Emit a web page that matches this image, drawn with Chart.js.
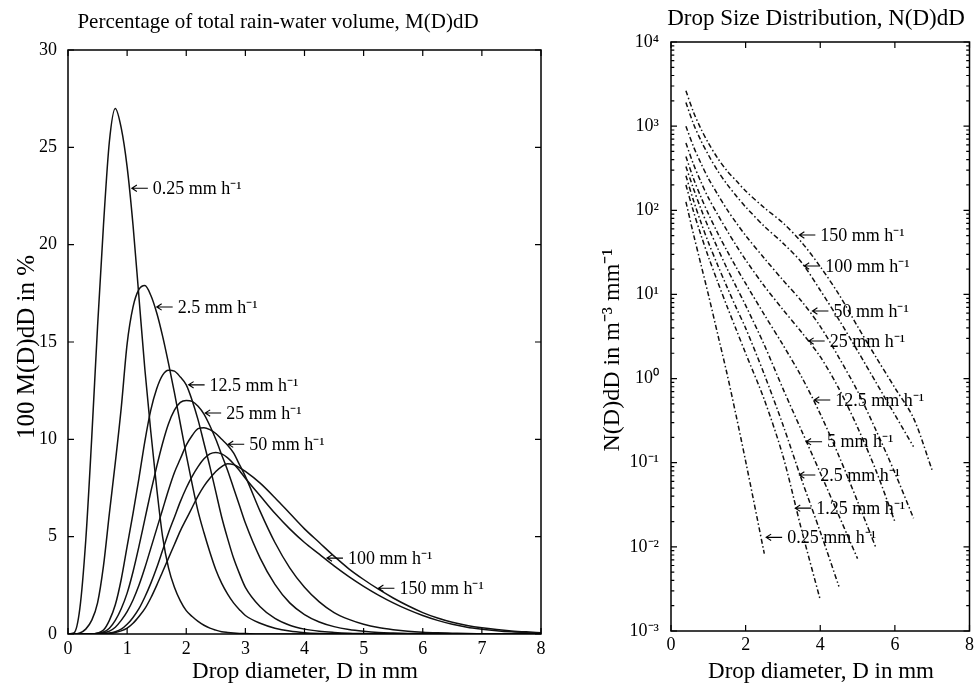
<!DOCTYPE html>
<html><head><meta charset="utf-8">
<script src="https://cdn.jsdelivr.net/npm/chart.js@4.4.0/dist/chart.umd.min.js"></script>
<style>
html,body{margin:0;padding:0;background:#fff;overflow:hidden;}
#wrapL{position:absolute;left:0;top:0;width:560px;height:686px;}
#wrapR{position:absolute;left:580px;top:0;width:397px;height:686px;}
</style></head><body>
<div id="wrapL"><canvas id="cL"></canvas></div>
<div id="wrapR"><canvas id="cR"></canvas></div>
<script>
// ---------- LEFT PANEL DATA: 100 M(D)dD in % ----------
const diameterGrid = [0,0.1,0.2,0.3,0.4,0.5,0.6,0.7,0.8,0.9,1.0,1.1,1.2,1.3,1.4,1.5,1.6,1.7,1.8,1.9,2.0,2.1,2.2,2.3,2.4,2.5,2.6,2.7,2.8,2.9,3.0,
  3.25,3.5,3.75,4.0,4.25,4.5,4.75,5.0,5.25,5.5,5.75,6.0,6.25,6.5,6.75,7.0,7.25,7.5,7.75,8.0];
const vol_0_25 = [0,0.05,1.3,4.8,10,15.8,21,25.3,27,26,24,21,17.3,13.6,10.4,7.5,5,3.4,2.4,1.7,1.2,0.9,0.65,0.45,0.3,0.2,0.12,0.08,0.05,0.03,0.02,
  0,0,0,0,0,0,0,0,0,0,0,0,0,0,0,0,0,0,0,0];
const vol_2_5  = [0,0,0.05,0.25,0.7,1.6,3.5,6.2,8.8,11.6,14.9,16.8,17.7,17.9,17.4,16.5,15.3,13.9,12.4,10.8,9.2,7.7,6.3,5.2,4.2,3.3,2.6,2.05,1.6,1.25,0.95,
  0.55,0.3,0.15,0.07,0.03,0.01,0,0,0,0,0,0,0,0,0,0,0,0,0,0];
const vol_12_5 = [0,0,0,0,0,0.05,0.2,0.7,1.5,2.8,4.5,6.2,8,9.9,11.5,12.6,13.3,13.55,13.5,13.2,12.8,12,11,9.8,8.6,7.3,6,4.9,3.9,3.1,2.4,
  1.4,0.8,0.45,0.25,0.14,0.08,0.04,0.02,0,0,0,0,0,0,0,0,0,0,0,0];
const vol_25   = [0,0,0,0,0,0.03,0.1,0.3,0.7,1.3,2.1,3.2,4.5,5.9,7.3,8.6,9.8,10.8,11.5,11.9,12,11.95,11.7,11.3,10.7,10,9.2,8.4,7.5,6.6,5.7,
  3.9,2.55,1.6,1,0.62,0.38,0.23,0.14,0.08,0.05,0.03,0.02,0,0,0,0,0,0,0,0];
const vol_50   = [0,0,0,0,0,0.02,0.06,0.15,0.35,0.7,1.15,1.75,2.5,3.4,4.4,5.4,6.4,7.4,8.3,9,9.7,10.2,10.55,10.6,10.5,10.3,10,9.7,9.3,8.7,8.1,
  6.3,4.7,3.4,2.4,1.65,1.1,0.75,0.5,0.33,0.22,0.14,0.09,0.06,0.04,0.02,0.01,0,0,0,0];
const vol_100  = [0,0,0,0,0,0,0.02,0.05,0.12,0.25,0.5,0.85,1.3,1.9,2.6,3.4,4.3,5.2,6,6.8,7.5,8.1,8.6,9,9.25,9.33,9.25,9.05,8.75,8.4,8,
  7.1,6.2,5.4,4.7,4.1,3.5,2.95,2.45,2,1.6,1.25,0.95,0.7,0.5,0.35,0.25,0.17,0.11,0.07,0.04];
const vol_150  = [0,0,0,0,0,0,0.01,0.03,0.08,0.16,0.3,0.55,0.9,1.3,1.85,2.5,3.2,3.9,4.6,5.3,5.9,6.5,7.1,7.6,8,8.35,8.6,8.75,8.7,8.55,8.35,
  7.75,7,6.2,5.4,4.7,4,3.35,2.8,2.3,1.85,1.45,1.1,0.82,0.6,0.44,0.32,0.23,0.16,0.11,0.07];
const leftSeries = [vol_0_25, vol_2_5, vol_12_5, vol_25, vol_50, vol_100, vol_150];
const leftRates  = ['0.25','2.5','12.5','25','50','100','150'];
const leftXTicks = [0,1,2,3,4,5,6,7,8];
const leftYTicks = [0,5,10,15,20,25,30];
// label arrow tips (D, value)
const leftLabelD = [1.08,1.5,2.04,2.32,2.71,4.38,5.25];
const leftLabelV = [22.9,16.8,12.8,11.35,9.75,3.9,2.35];

// ---------- RIGHT PANEL DATA: log10 N(D)dD ----------
const dsdDiameter = [0.4,0.6,0.8,1.0,1.25,1.5,1.75,2.0,2.5,3.0,3.5,4.0,4.5,5.0,5.5,6.0,6.5,7.0];
const logN_150  = [3.42,3.17,2.97,2.80,2.62,2.47,2.35,2.23,2.03,1.85,1.62,1.33,1.0,0.62,0.25,-0.11,-0.47,-1.09];
const logN_100  = [3.28,3.03,2.83,2.66,2.47,2.31,2.17,2.04,1.81,1.61,1.38,1.05,0.70,0.33,-0.05,-0.43,-0.81,null];
const logN_50   = [3.00,2.76,2.56,2.38,2.19,2.01,1.85,1.70,1.43,1.17,0.92,0.62,0.25,-0.15,-0.62,-1.12,-1.66,null];
const logN_25   = [2.80,2.55,2.34,2.15,1.95,1.76,1.58,1.41,1.10,0.82,0.55,0.26,-0.12,-0.58,-1.1,-1.7,null,null];
const logN_12_5 = [2.64,2.38,2.16,1.96,1.73,1.52,1.32,1.13,0.76,0.40,0.02,-0.42,-0.92,-1.46,-2.02,null,null,null];
const logN_5    = [2.52,2.26,2.02,1.80,1.55,1.31,1.09,0.87,0.40,-0.12,-0.62,-1.12,-1.63,-2.14,null,null,null,null];
const logN_2_5  = [2.41,2.12,1.86,1.62,1.35,1.09,0.84,0.60,0.05,-0.55,-1.20,-1.82,-2.47,null,null,null,null,null];
const logN_1_25 = [2.30,1.99,1.71,1.45,1.15,0.86,0.58,0.30,-0.25,-0.92,-1.80,-2.63,null,null,null,null,null,null];
const logN_0_25 = [2.10,1.72,1.36,1.00,0.53,0.06,-0.45,-0.98,-2.08,null,null,null,null,null,null,null,null,null];
const rightSeries = [logN_150, logN_100, logN_50, logN_25, logN_12_5, logN_5, logN_2_5, logN_1_25, logN_0_25];
const rightRates  = ['150','100','50','25','12.5','5','2.5','1.25','0.25'];
const rightXTicks = [0,2,4,6,8];
const rightYExp   = [-3,-2,-1,0,1,2,3,4];
const rightLabelD = [3.44,3.57,3.79,3.69,3.84,3.62,3.44,3.33,2.55];
const rightLabelLog = [1.706,1.338,0.803,0.446,-0.255,-0.75,-1.146,-1.54,-1.887];

// ---------- helpers ----------
const SERIF = '"Liberation Serif","Times New Roman",serif';
const SUP = {'-':'\u207B','0':'\u2070','1':'\u00B9','2':'\u00B2','3':'\u00B3','4':'\u2074','5':'\u2075','6':'\u2076','7':'\u2077','8':'\u2078','9':'\u2079'};
const sup = s => String(s).split('').map(c => SUP[c] || c).join('');
const unitTxt = 'mm h' + sup('-1');

const frame = {
  id: 'frame',
  afterDatasetsDraw(chart, args, o) {
    const {ctx, chartArea: a, scales} = chart;
    const x = scales.x, y = scales.y;
    ctx.save();
    ctx.strokeStyle = '#000';
    ctx.lineWidth = o.lw;
    ctx.beginPath();
    const L = o.tick;
    o.xt.forEach(v => { const p = x.getPixelForValue(v);
      ctx.moveTo(p, a.bottom); ctx.lineTo(p, a.bottom - L);
      ctx.moveTo(p, a.top); ctx.lineTo(p, a.top + L); });
    o.yt.forEach(v => { const p = y.getPixelForValue(v);
      ctx.moveTo(a.left, p); ctx.lineTo(a.left + L, p);
      ctx.moveTo(a.right, p); ctx.lineTo(a.right - L, p); });
    if (o.minor) {
      o.minor.forEach(v => { const p = y.getPixelForValue(v);
        ctx.moveTo(a.left, p); ctx.lineTo(a.left + L * 0.55, p);
        ctx.moveTo(a.right, p); ctx.lineTo(a.right - L * 0.55, p); });
    }
    ctx.stroke();
    ctx.lineWidth = o.boxLw;
    ctx.strokeRect(a.left, a.top, a.width, a.height);
    // labels with arrows
    ctx.fillStyle = '#000';
    ctx.font = o.labelFont;
    ctx.textAlign = 'left';
    ctx.textBaseline = 'middle';
    ctx.lineWidth = 1.1;
    o.labels.forEach(l => {
      const tx = x.getPixelForValue(l.x), ty = y.getPixelForValue(l.y);
      ctx.beginPath();
      ctx.moveTo(tx, ty); ctx.lineTo(tx + 16, ty);
      ctx.moveTo(tx + 5, ty - 3.2); ctx.lineTo(tx, ty); ctx.lineTo(tx + 5, ty + 3.2);
      ctx.stroke();
      ctx.fillText(l.t, tx + 21, ty + 1);
    });
    // titles
    o.texts.forEach(t => {
      ctx.save();
      ctx.font = t.font;
      ctx.textAlign = 'center';
      ctx.textBaseline = 'middle';
      ctx.translate(t.x, t.y);
      if (t.rot) ctx.rotate(t.rot);
      ctx.fillText(t.text, 0, 0);
      ctx.restore();
    });
    ctx.restore();
  }
};

const noGrid = {display: false, drawTicks: false, tickLength: 0};

// ---------- LEFT CHART ----------
new Chart(document.getElementById('cL'), {
  type: 'line',
  data: {
    datasets: leftSeries.map((s, i) => ({
      label: leftRates[i] + ' ' + unitTxt,
      data: diameterGrid.map((d, j) => ({x: d, y: s[j]})),
      borderColor: '#111', borderWidth: 1.5, pointRadius: 0,
      cubicInterpolationMode: 'monotone', fill: false
    }))
  },
  options: {
    responsive: true, maintainAspectRatio: false, animation: false,
    layout: {padding: {left: 0, right: 19, top: 50, bottom: 0}},
    plugins: {
      legend: {display: false}, tooltip: {enabled: false},
      frame: {
        lw: 1.2, boxLw: 1.5, tick: 6, xt: leftXTicks, yt: leftYTicks,
        labelFont: '18px ' + SERIF,
        labels: leftRates.map((r, i) => ({t: r + ' ' + unitTxt, x: leftLabelD[i], y: leftLabelV[i]})),
        texts: [
          {text: 'Percentage of total rain-water volume, M(D)dD', font: '21px ' + SERIF, x: 278, y: 22},
          {text: 'Drop diameter, D in mm', font: '23px ' + SERIF, x: 305, y: 672},
          {text: '100 M(D)dD in %', font: '25px ' + SERIF, x: 27, y: 347, rot: -Math.PI / 2}
        ]
      }
    },
    scales: {
      x: {
        type: 'linear', min: 0, max: 8,
        afterBuildTicks: s => { s.ticks = leftXTicks.map(v => ({value: v})); },
        afterFit: s => { s.height = 52; },
        grid: noGrid, border: {display: false},
        ticks: {color: '#000', font: {family: SERIF, size: 18}, padding: 4, maxRotation: 0}
      },
      y: {
        type: 'linear', min: 0, max: 30,
        afterBuildTicks: s => { s.ticks = leftYTicks.map(v => ({value: v})); },
        afterFit: s => { s.width = 68; },
        grid: noGrid, border: {display: false},
        ticks: {color: '#000', font: {family: SERIF, size: 18}, padding: 11}
      }
    }
  },
  plugins: [frame]
});

// ---------- RIGHT CHART ----------
const minorLog = [];
rightYExp.slice(0, -1).forEach(k => { for (let m = 2; m <= 9; m++) minorLog.push(m * Math.pow(10, k)); });

new Chart(document.getElementById('cR'), {
  type: 'line',
  data: {
    datasets: rightSeries.map((s, i) => ({
      label: rightRates[i] + ' ' + unitTxt,
      data: dsdDiameter.map((d, j) => ({x: d, y: s[j] === null ? null : Math.pow(10, s[j])})),
      borderColor: '#111', borderWidth: 1.5, pointRadius: 0,
      borderDash: [5, 2.5, 1.5, 2.5], tension: 0.3, spanGaps: false, fill: false
    }))
  },
  options: {
    responsive: true, maintainAspectRatio: false, animation: false,
    layout: {padding: {left: 0, right: 6, top: 42, bottom: 0}},
    plugins: {
      legend: {display: false}, tooltip: {enabled: false},
      frame: {
        lw: 1.2, boxLw: 1.5, tick: 6, xt: rightXTicks, yt: rightYExp.map(k => Math.pow(10, k)), minor: minorLog,
        labelFont: '18px ' + SERIF,
        labels: rightRates.map((r, i) => ({t: r + ' ' + unitTxt, x: rightLabelD[i], y: Math.pow(10, rightLabelLog[i])})),
        texts: [
          {text: 'Drop Size Distribution, N(D)dD', font: '23px ' + SERIF, x: 236, y: 19},
          {text: 'Drop diameter, D in mm', font: '23px ' + SERIF, x: 241, y: 672},
          {text: 'N(D)dD in m' + sup('-3') + ' mm' + sup('-1'), font: '24px ' + SERIF, x: 33, y: 350, rot: -Math.PI / 2}
        ]
      }
    },
    scales: {
      x: {
        type: 'linear', min: 0, max: 8,
        afterBuildTicks: s => { s.ticks = rightXTicks.map(v => ({value: v})); },
        afterFit: s => { s.height = 55; },
        grid: noGrid, border: {display: false},
        ticks: {color: '#000', font: {family: SERIF, size: 18}, padding: 3, maxRotation: 0}
      },
      y: {
        type: 'logarithmic', min: 0.001, max: 10000,
        afterBuildTicks: s => { s.ticks = rightYExp.map(k => ({value: Math.pow(10, k)})); },
        afterFit: s => { s.width = 91; },
        grid: noGrid, border: {display: false},
        ticks: {color: '#000', font: {family: SERIF, size: 18}, padding: 12,
          callback: v => '10' + sup(Math.round(Math.log10(v)))}
      }
    }
  },
  plugins: [frame]
});
</script>
</body></html>
